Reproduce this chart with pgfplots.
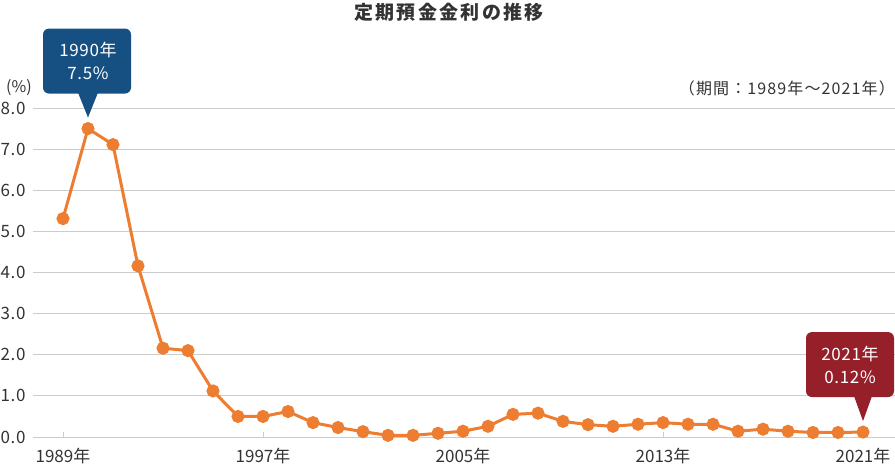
\documentclass[border=0pt]{standalone}
\usepackage{fontspec}
\setmainfont{Noto Sans CJK JP}
\usepackage{pgfplots}
\pgfplotsset{compat=1.18}

\definecolor{lineorange}{RGB}{237,125,49}
\definecolor{gridgray}{RGB}{204,204,204}
\definecolor{textgray}{RGB}{51,51,51}
\definecolor{calloutblue}{RGB}{22,80,130}
\definecolor{calloutred}{RGB}{150,32,42}

\begin{document}
\begin{tikzpicture}
\useasboundingbox (0,0) rectangle (895pt,472pt);

\begin{axis}[
  at={(33pt,35pt)},
  anchor=south west,
  scale only axis,
  width=862pt,
  height=329pt,
  xmin=1987.8, xmax=2022.28,
  ymin=0, ymax=8,
  clip=false,
  axis line style={draw=none},
  ymajorgrids,
  grid style={gridgray, line width=1pt},
  ytick={0,1,2,3,4,5,6,7,8},
  ytick style={draw=none},
  ytick pos=left,
  yticklabel style={
    /pgf/number format/fixed,
    /pgf/number format/fixed zerofill,
    /pgf/number format/precision=1,
    /pgf/number format/assume math mode=true,
    font=\fontsize{17}{17}\selectfont\addfontfeature{LetterSpace=4},
    text=textgray, xshift=-4pt
  },
  xtick={1989,1997,2005,2013,2021},
  xticklabels={1989年,1997年,2005年,2013年,2021年},
  xtick pos=bottom,
  xtick style={gridgray, line width=1pt},
  tick align=inside,
  major tick length=5pt,
  xticklabel style={font=\fontsize{17}{17}\selectfont, text=textgray, yshift=-8pt},
]
\addplot[lineorange, line width=3pt, mark=*, mark size=5pt,
  mark options={fill=lineorange, draw=none}] coordinates {
  (1989,5.31) (1990,7.50) (1991,7.11) (1992,4.16) (1993,2.16) (1994,2.10)
  (1995,1.12) (1996,0.50) (1997,0.50) (1998,0.62) (1999,0.35) (2000,0.23)
  (2001,0.13) (2002,0.04) (2003,0.04) (2004,0.09) (2005,0.14) (2006,0.26)
  (2007,0.55) (2008,0.58) (2009,0.38) (2010,0.30) (2011,0.26) (2012,0.31)
  (2013,0.35) (2014,0.31) (2015,0.31) (2016,0.14) (2017,0.19) (2018,0.14)
  (2019,0.11) (2020,0.11) (2021,0.12)
};
\coordinate (c1) at (axis cs:1990,7.5);
\coordinate (c2) at (axis cs:2021,0.12);
\end{axis}

% callout 1990
\begin{scope}[shift={(c1)}]
  \fill[calloutblue] (0,11pt) -- (-10pt,36pt) -- (10pt,36pt) -- cycle;
  \fill[calloutblue, rounded corners=6pt] (-45pt,35pt) rectangle (43pt,100pt);
  \node[text=white, font=\fontsize{17}{23}\selectfont\addfontfeature{LetterSpace=4}, align=center] at (0,67.5pt) {1990年\\7.5\%};
\end{scope}

% callout 2021
\begin{scope}[shift={(c2)}]
  \fill[calloutred] (0,11pt) -- (-9pt,36pt) -- (9pt,36pt) -- cycle;
  \fill[calloutred, rounded corners=6pt] (-57pt,35pt) rectangle (31pt,100pt);
  \node[text=white, font=\fontsize{17}{23}\selectfont\addfontfeature{LetterSpace=4}, align=center] at (-13pt,67.5pt) {2021年\\0.12\%};
\end{scope}

\node[font=\bfseries\fontsize{19}{19}\selectfont\addfontfeature{LetterSpace=12}, text=textgray] at (449pt,460pt) {定期預金金利の推移};
\node[font=\fontsize{16}{16}\selectfont, text=textgray] at (19pt,384pt) {(\%)};
\node[font=\fontsize{16}{16}\selectfont\addfontfeature{LetterSpace=7}, text=textgray, anchor=east, inner sep=0pt] at (895pt,384pt) {（期間：1989年～2021年）};
\end{tikzpicture}
\end{document}
